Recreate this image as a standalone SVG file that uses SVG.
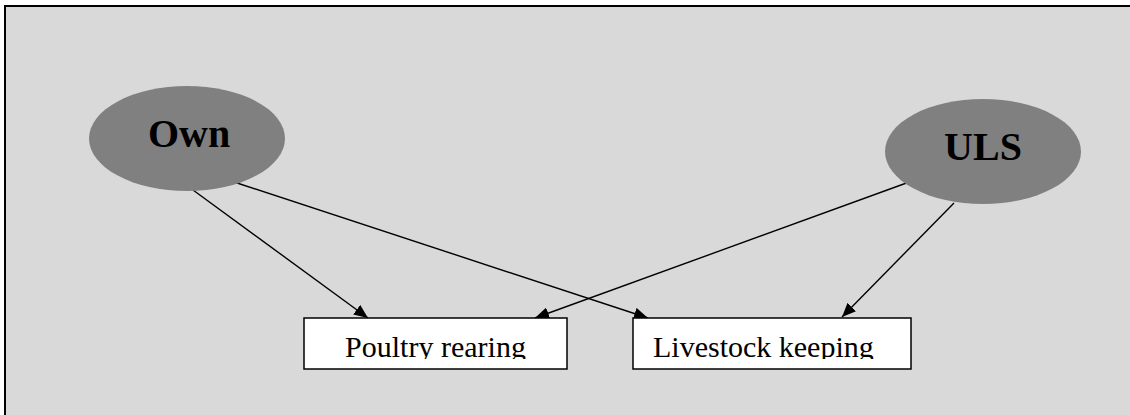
<svg xmlns="http://www.w3.org/2000/svg" width="1130" height="415" viewBox="0 0 1130 415">
  <defs>
    <style>
      .oval { fill: #808080; stroke: none; }
      .oval-text { font-family: "Liberation Serif", "Times New Roman", serif; font-weight: bold; font-size: 40px; fill: #000; text-anchor: middle; }
      .box { fill: #ffffff; stroke: #000; stroke-width: 1.5; }
      .box-text { font-family: "Liberation Serif", "Times New Roman", serif; font-size: 30px; fill: #000; }
      .edge { stroke: #000; stroke-width: 1.4; fill: none; marker-end: url(#arrow); }
      .border { stroke: #000; stroke-width: 2; fill: none; }
    </style>
    <marker id="arrow" markerUnits="userSpaceOnUse" markerWidth="14" markerHeight="12" viewBox="0 0 14 12" refX="14" refY="6" orient="auto">
      <path d="M0,0 L14,6 L0,12 z" fill="#000"/>
    </marker>
    <clipPath id="clipPoultry"><rect x="305" y="319" width="261" height="40"/></clipPath>
    <clipPath id="clipLivestock"><rect x="634" y="319" width="276" height="40"/></clipPath>
  </defs>

  <rect x="0" y="0" width="1130" height="415" fill="#ffffff"/>
  <g id="frame">
    <rect x="5" y="6" width="1125" height="409" fill="#d9d9d9"/>
    <path class="border" d="M5,415 L5,6 L1130,6"/>
  </g>

  <g id="connectors">
    <line class="edge" x1="193" y1="190" x2="368" y2="318"/>
    <line class="edge" x1="231" y1="181" x2="648" y2="318"/>
    <line class="edge" x1="912" y1="181" x2="535" y2="318"/>
    <line class="edge" x1="954" y1="203" x2="842" y2="317"/>
  </g>

  <g id="node-own">
    <ellipse class="oval" cx="187" cy="138.5" rx="98" ry="52.5"/>
    <text class="oval-text" x="189" y="147">Own</text>
  </g>

  <g id="node-uls">
    <ellipse class="oval" cx="983" cy="151.5" rx="98" ry="52.5"/>
    <text class="oval-text" x="983" y="160">ULS</text>
  </g>

  <g id="node-poultry">
    <rect class="box" x="304" y="318" width="263" height="51"/>
    <text class="box-text" x="435.5" y="357" text-anchor="middle" clip-path="url(#clipPoultry)">Poultry rearing</text>
  </g>

  <g id="node-livestock">
    <rect class="box" x="633" y="318" width="278" height="51"/>
    <text class="box-text" x="653" y="357" clip-path="url(#clipLivestock)">Livestock keeping</text>
  </g>
</svg>
